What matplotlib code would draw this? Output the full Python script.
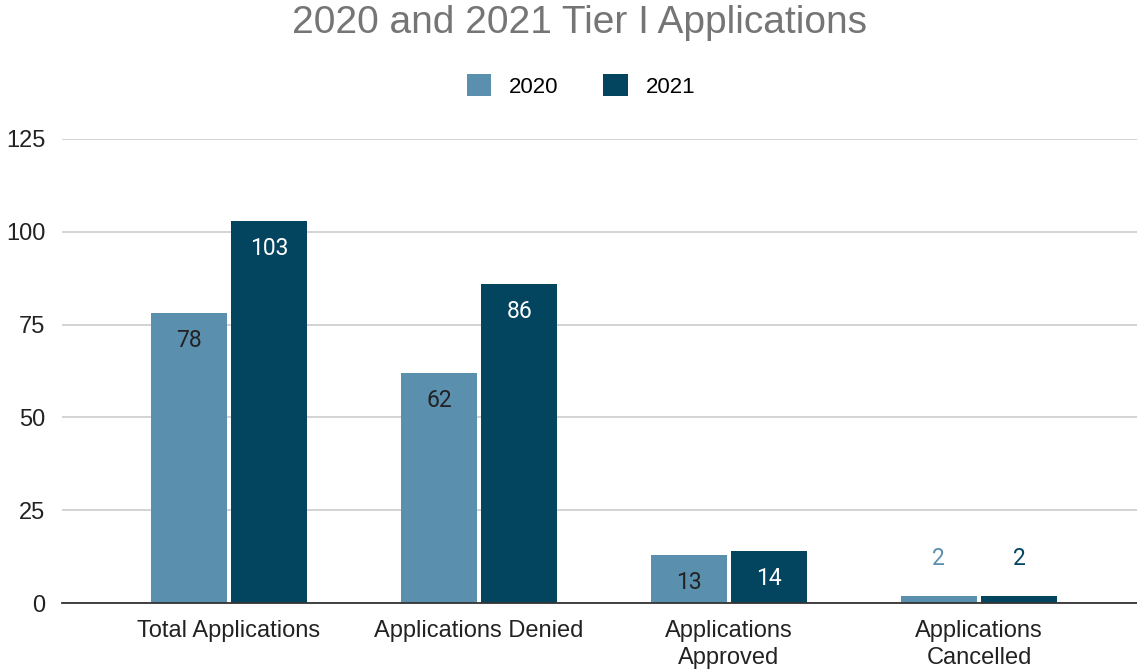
import matplotlib
matplotlib.use("Agg")
import matplotlib.pyplot as plt
import numpy as np

categories = ["Total Applications", "Applications Denied", "Applications\nApproved", "Applications\nCancelled"]
values_2020 = [78, 62, 13, 2]
values_2021 = [103, 86, 14, 2]
series_names = ["2020", "2021"]
y_ticks = [0, 25, 50, 75, 100, 125]

COLOR_2020 = "#5a8fae"
COLOR_2021 = "#03445f"
ARIAL = ["Liberation Sans", "DejaVu Sans"]

plt.rcParams["font.family"] = ARIAL

fig = plt.figure(figsize=(11.37, 6.71), dpi=100)
ax = fig.add_axes([62 / 1137, 1 - 603 / 671, (1137 - 62) / 1137, 464 / 671])

x = np.arange(len(categories))
width = 0.305
gap = 0.008
bars_a = ax.bar(x - width / 2 - gap, values_2020, width, color=COLOR_2020, label=series_names[0], zorder=3)
bars_b = ax.bar(x + width / 2 + gap, values_2021, width, color=COLOR_2021, label=series_names[1], zorder=3)

# labels sit inside tall bars, above the tiny ones (in the bar colour)
for bars, vals, color, text_in in [(bars_a, values_2020, COLOR_2020, "#222222"), (bars_b, values_2021, COLOR_2021, "white")]:
    for b, v in zip(bars, vals):
        cx = b.get_x() + b.get_width() / 2
        if v >= 10:
            ax.text(cx, v - 4.3, str(v), ha="center", va="top", fontsize=16.5, color=text_in,
                    family=["Roboto", "DejaVu Sans"], zorder=4)
        else:
            ax.text(cx, v + 10.0, str(v), ha="center", va="center", fontsize=16.5, color=color,
                    family=["Roboto", "DejaVu Sans"], zorder=4)

ax.set_xlim(-0.668, 3.632)
ax.set_ylim(0, 125)
ax.set_yticks(y_ticks)
ax.set_xticks(x)
ax.set_xticklabels(categories, fontsize=17, color="#222222", linespacing=1.3)
ax.tick_params(axis="y", labelsize=17, labelcolor="#222222", length=0, pad=12)
ax.tick_params(axis="x", length=0, pad=12)
ax.grid(axis="y", color="#cccccc", linewidth=1.2, zorder=0)
for side in ["top", "right", "left"]:
    ax.spines[side].set_visible(False)
ax.spines["bottom"].set_color("#333333")
ax.spines["bottom"].set_linewidth(1.3)
ax.spines["bottom"].set_zorder(5)

fig.text(580 / 1137, 1 - 23 / 671, "2020 and 2021 Tier I Applications", ha="center", va="center",
         fontsize=28, color="#757575")
fig.legend(loc="center", bbox_to_anchor=(581 / 1137, 1 - 86 / 671), ncol=2, frameon=False,
           fontsize=16, handlelength=1.1, handleheight=1.1, columnspacing=2.0, handletextpad=0.8)

fig.savefig("out.png", dpi=100)
